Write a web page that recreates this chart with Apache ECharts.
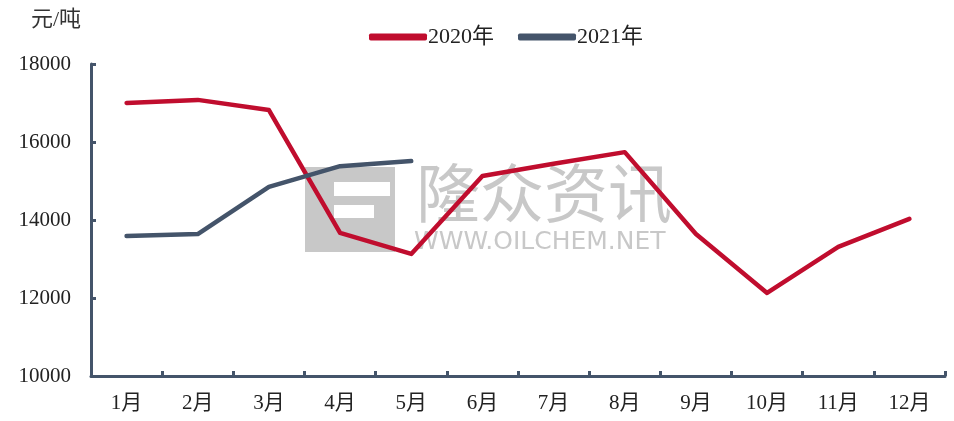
<!DOCTYPE html>
<html>
<head>
<meta charset="utf-8">
<script src="https://cdn.jsdelivr.net/npm/echarts@6/dist/echarts.min.js"></script>
<style>
  html, body { margin: 0; padding: 0; background: #fff; }
  #chart { width: 954px; height: 421px; }
</style>
</head>
<body>
<div id="chart"></div>
<script>
// 数据
const months = ['1月', '2月', '3月', '4月', '5月', '6月', '7月', '8月', '9月', '10月', '11月', '12月'];
const price2020 = [17000, 17080, 16820, 13670, 13130, 15130, 15440, 15740, 13640, 12130, 13310, 14030];
const price2021 = [13590, 13640, 14850, 15380, 15510];
const yTicks = [10000, 12000, 14000, 16000, 18000];

const RED = '#C00D2E';
const NAVY = '#44546A';
const FONT = '"Times New Roman", "Liberation Serif", "Noto Sans CJK SC", serif';

const chart = echarts.init(document.getElementById('chart'));

chart.setOption({
  animation: false,
  textStyle: { fontFamily: FONT },
  grid: { left: 91, right: 9, top: 64, bottom: 45 },
  legend: {
    top: 21,
    left: 364,
    itemGap: 24,
    itemWidth: 58,
    itemHeight: 7,
    icon: 'roundRect',
    textStyle: { fontSize: 22, color: '#222', fontFamily: FONT, padding: [0, 0, 0, -4] },
    data: ['2020年', '2021年']
  },
  graphic: [
    { type: 'text', left: 31, top: 9, style: { text: '元/吨', fontSize: 22, fill: '#333', fontFamily: FONT } },
    // 水印
    { type: 'rect', z: -10, shape: { x: 305, y: 167, width: 90, height: 85 }, style: { fill: '#c8c8c8' } },
    { type: 'rect', z: -9, shape: { x: 334, y: 182, width: 56, height: 14 }, style: { fill: '#fff' } },
    { type: 'rect', z: -9, shape: { x: 334, y: 205, width: 40, height: 13 }, style: { fill: '#fff' } },
    { type: 'text', z: -10, left: 416, top: 161, style: { text: '隆众资讯', fontSize: 64, fill: '#c8c8c8', fontFamily: '"Noto Sans CJK SC", sans-serif' } },
    { type: 'text', z: -10, left: 414, top: 230, style: { text: 'WWW.OILCHEM.NET', fontSize: 25, fill: '#c8c8c8', fontFamily: '"DejaVu Sans", sans-serif' } }
  ],
  xAxis: {
    type: 'category',
    data: months,
    boundaryGap: true,
    axisLine: { lineStyle: { color: NAVY, width: 3 } },
    axisTick: { show: true, inside: true, length: 5, lineStyle: { color: NAVY, width: 3 } },
    axisLabel: { fontSize: 21, color: '#222', margin: 17, fontFamily: FONT }
  },
  yAxis: {
    type: 'value',
    min: yTicks[0],
    max: yTicks[yTicks.length - 1],
    interval: 2000,
    axisLine: { show: true, lineStyle: { color: NAVY, width: 3 } },
    axisTick: { show: true, inside: true, length: 5, lineStyle: { color: NAVY, width: 3 } },
    splitLine: { show: false },
    axisLabel: { fontSize: 21, color: '#222', margin: 20, fontFamily: FONT, formatter: v => String(v) }
  },
  series: [
    {
      name: '2020年',
      type: 'line',
      data: price2020,
      symbol: 'none',
      color: RED,
      lineStyle: { color: RED, width: 4.5, cap: 'round', join: 'round' }
    },
    {
      name: '2021年',
      type: 'line',
      data: price2021,
      symbol: 'none',
      color: NAVY,
      lineStyle: { color: NAVY, width: 4.5, cap: 'round', join: 'round' }
    }
  ]
});
</script>
</body>
</html>
